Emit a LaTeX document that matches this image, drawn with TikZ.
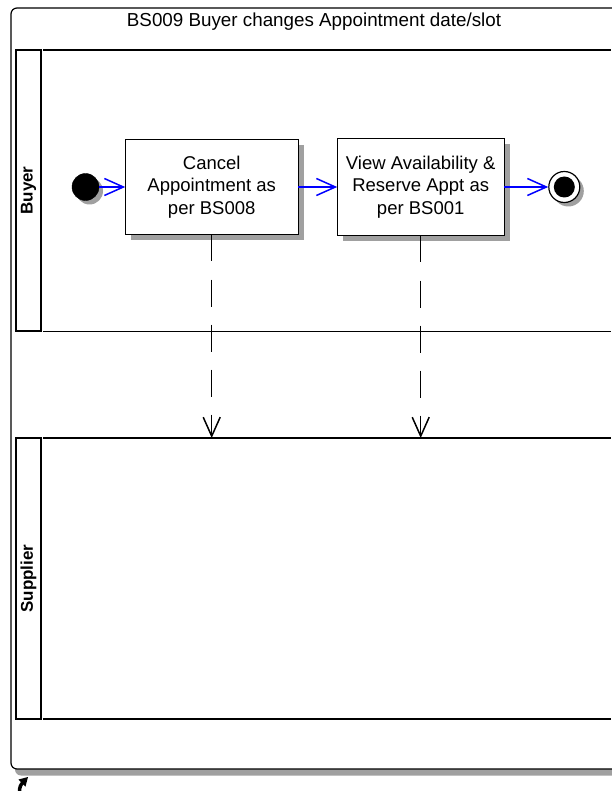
\documentclass[tikz,border=0pt]{standalone}
\usepackage{fontspec}
\setmainfont{Liberation Sans}
\usetikzlibrary{positioning,shadows,arrows.meta}
\definecolor{shadowgray}{RGB}{160,160,160}
\definecolor{flowblue}{RGB}{0,0,255}

\tikzset{
  boxshadow/.style = {drop shadow={shadow xshift=6pt, shadow yshift=-6pt, fill=shadowgray, opacity=1}},
  dotshadow/.style = {drop shadow={shadow xshift=4pt, shadow yshift=-4pt, fill=shadowgray, opacity=1}},
  tip/.style = {-{Straight Barb[length=19pt,width=17pt]}}
}

\begin{document}
\begin{tikzpicture}[x=1pt, y=-1pt,
  task/.style = {draw, line width=1.2pt, fill=white, inner sep=0pt, outer sep=0pt, align=center,
                 font=\fontsize{18.5}{22.3}\selectfont, boxshadow},
  startdot/.style = {draw, circle, fill=black, minimum size=27pt, inner sep=0pt, dotshadow},
  enddot/.style = {draw, circle, line width=1.2pt, fill=white, minimum size=31pt, inner sep=0pt, dotshadow},
  lanebox/.style = {draw, line width=1.2pt, rotate=90, minimum height=25pt, inner sep=0pt,
                    font=\fontsize{17}{18}\selectfont\bfseries},
  flow/.style = {draw=flowblue, line width=1.5pt, tip},
  msg/.style = {draw, line width=1.5pt, dash pattern=on 27pt off 18pt, tip}]
\useasboundingbox (0,0) rectangle (611,791);

% frame and title
\draw[line width=1.2pt, rounded corners=6pt, fill=white,
      drop shadow={shadow xshift=4pt, shadow yshift=-6.5pt, fill=shadowgray, opacity=1}] (11,8) rectangle (660,769);
\node[font=\fontsize{18.8}{22}\selectfont, anchor=base] (title) at (314,27) {BS009 Buyer changes Appointment date/slot};

% lanes
\node[lanebox, minimum width=281pt] (buyer) at (28.5,190.5) {Buyer};
\node[lanebox, minimum width=281pt] (supplier) at (28.5,578.5) {Supplier};
\draw[line width=1.2pt] (43,50) -- (611,50);
\draw[line width=1.2pt] (43,331.5) -- (611,331.5);
\draw[line width=1.2pt] (43,438) -- (611,438);
\draw[line width=1.2pt] (43,719) -- (611,719);
\coordinate (suptop) at (0,438);

% activities
\node[startdot] (start) at (85.5,187) {};
\node[task, minimum width=173pt, minimum height=95pt, right=26pt of start] (cancel) {Cancel\\Appointment as\\per BS008};
\node[task, minimum width=167pt, minimum height=97pt, right=39pt of cancel] (reserve) {View Availability \&\\Reserve Appt as\\per BS001};
\node[enddot, right=44pt of reserve] (end) {};
\node[circle, fill=black, minimum size=21pt, inner sep=0pt] (endcore) at (end) {};

\draw[flow] (start) -- (cancel);
\draw[flow] (cancel) -- (reserve);
\draw[flow] (reserve) -- (end);

\draw[msg] (cancel.south) -- (cancel.south |- suptop);
\draw[msg] (reserve.south) -- (reserve.south |- suptop);

% shortcut mark
\draw[line width=3.5pt] (19.5,792) .. controls (19.5,787) and (20.5,784.5) .. (23.5,782);
\fill (28,777) -- (18.5,779.5) -- (25.5,786.5) -- cycle;

\end{tikzpicture}
\end{document}
